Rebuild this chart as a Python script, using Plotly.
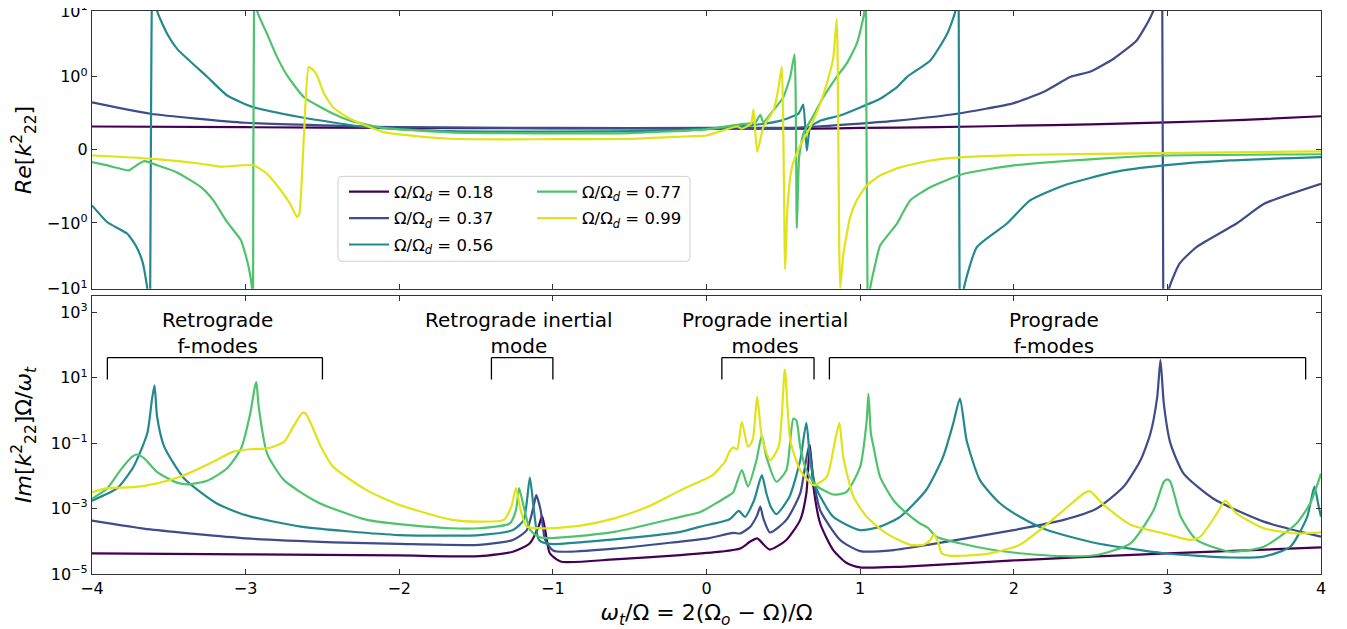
import numpy as np
import plotly.graph_objects as go

# ---------------- data ----------------
omega_ratio = [0.18, 0.37, 0.56, 0.77, 0.99]
line_colors = ["#440154", "#3e4c8a", "#23898e", "#4ec36b", "#dfe318"]

x_ticks = [-4, -3, -2, -1, 0, 1, 2, 3, 4]
re_tick_values = [-10, -1, 0, 1, 10]
re_tick_text = ["−10<sup>1</sup>", "−10<sup>0</sup>", "0", "10<sup>0</sup>", "10<sup>1</sup>"]
im_tick_values = [1e-5, 1e-3, 1e-1, 1e1, 1e3]
im_tick_text = ["10<sup>−5</sup>", "10<sup>−3</sup>", "10<sup>−1</sup>", "10<sup>1</sup>", "10<sup>3</sup>"]

# Re[k22] (top panel): (omega_t/Omega, value)
re_018 = [(-4, 0.32), (-3, 0.31), (-2, 0.30), (-1, 0.295), (0, 0.29), (0.7, 0.29), (1, 0.30),
          (1.5, 0.31), (2, 0.33), (2.5, 0.35), (3, 0.375), (3.5, 0.41), (4, 0.46)]
re_037 = [(-4, 0.65), (-3.62, 0.494), (-3, 0.371), (-2, 0.31), (-1, 0.30), (0, 0.30), (0.6, 0.305),
          (1.0, 0.36), (1.24, 0.40), (1.63, 0.494), (2.0, 0.64), (2.2, 0.8), (2.37, 1.0), (2.5, 1.2),
          (2.65, 1.88), (2.80, 3.56), (2.89, 8.05), (2.93, 14), (2.95, 30), (2.965, 200),
          (2.975, -200), (2.99, -30), (3.01, -10), (3.08, -4.12), (3.19, -2.32), (3.45, -1.02),
          (3.63, -0.737), (4.0, -0.464)]
re_056 = [(-4, -0.76), (-3.9, -0.99), (-3.77, -1.46), (-3.71, -2.32), (-3.67, -4.0), (-3.64, -10),
          (-3.625, -60), (-3.605, 60), (-3.576, 10), (-3.51, 4.47), (-3.446, 2.66), (-3.25, 1.0),
          (-3.12, 0.744), (-2.95, 0.584), (-2.64, 0.447), (-2.21, 0.31), (-1.67, 0.256), (-1.0, 0.25),
          (-0.3, 0.26), (0.0, 0.29), (0.29, 0.335), (0.485, 0.40), (0.60, 0.50), (0.63, 0.62),
          (0.653, -0.01), (0.675, 0.31), (0.74, 0.40), (0.87, 0.47), (1.0, 0.58), (1.13, 0.70),
          (1.24, 0.858), (1.306, 1.0), (1.457, 1.77), (1.566, 4.47), (1.62, 10), (1.638, 60),
          (1.652, -60), (1.675, -10), (1.76, -2.32), (1.956, -1.02), (2.106, -0.692),
          (2.325, -0.487), (2.65, -0.305), (2.976, -0.213), (3.41, -0.145), (4.0, -0.10)]
re_077 = [(-4, -0.168), (-3.9, -0.213), (-3.76, -0.28), (-3.73, -0.24), (-3.66, -0.155),
          (-3.576, -0.21), (-3.45, -0.305), (-3.29, -0.51), (-3.21, -0.692), (-3.12, -0.99),
          (-3.03, -1.84), (-2.98, -4.7), (-2.958, -10), (-2.952, -60), (-2.944, 60), (-2.925, 10),
          (-2.86, 4.47), (-2.795, 1.99), (-2.73, 1.05), (-2.62, 0.72), (-2.43, 0.494), (-2.32, 0.40),
          (-2.10, 0.30), (-1.67, 0.24), (-1.0, 0.225), (-0.5, 0.23), (0.0, 0.28), (0.22, 0.35),
          (0.32, 0.38), (0.35, 0.48), (0.37, 0.38), (0.435, 0.54), (0.5, 0.72), (0.545, 1.0),
          (0.573, 2.2), (0.588, -1.2), (0.603, -0.1), (0.63, 0.22), (0.696, 0.47), (0.76, 0.72),
          (0.848, 1.0), (0.913, 1.6), (0.978, 3.2), (1.017, 7.2), (1.028, 10), (1.036, 60),
          (1.05, -60), (1.065, -10), (1.10, -4.1), (1.13, -2.2), (1.217, -1.2), (1.24, -1.02),
          (1.327, -0.69), (1.457, -0.51), (1.675, -0.327), (2.0, -0.213), (2.54, -0.122),
          (2.976, -0.077), (4.0, -0.06)]
re_099 = [(-4, -0.077), (-3.62, -0.12), (-3.29, -0.19), (-3.16, -0.23), (-2.95, -0.21),
          (-2.86, -0.33), (-2.77, -0.556), (-2.71, -0.74), (-2.665, -0.92), (-2.65, -0.87),
          (-2.62, 0.22), (-2.59, 1.4), (-2.57, 1.33), (-2.535, 1.05), (-2.49, 0.77), (-2.43, 0.58),
          (-2.32, 0.425), (-2.10, 0.243), (-1.67, 0.152), (-1.0, 0.146), (-0.5, 0.15),
          (-0.15, 0.183), (0.0, 0.197), (0.07, 0.24), (0.2, 0.32), (0.23, 0.29), (0.29, 0.36),
          (0.306, 0.55), (0.33, -0.03), (0.37, 0.31), (0.436, 0.54), (0.47, 0.86), (0.49, 1.43),
          (0.512, -5.1), (0.527, -0.78), (0.556, -0.24), (0.61, 0.06), (0.675, 0.31), (0.74, 0.63),
          (0.805, 1.2), (0.826, 2.0), (0.848, 7.6), (0.87, -9.7), (0.89, -3.1), (0.935, -0.92),
          (0.978, -0.69), (1.043, -0.487), (1.13, -0.35), (1.26, -0.24), (1.457, -0.145),
          (1.675, -0.10), (2.1, -0.067), (2.976, -0.045), (4.0, -0.02)]

# Im[k22] Omega/omega_t (bottom panel): (omega_t/Omega, value)
im_018 = [(-4.0, 4.3e-5), (-3.0, 4.0e-5), (-2.0, 3.7e-5), (-1.48, 3.5e-5), (-1.26, 4.8e-5),
          (-1.15, 8.7e-5), (-1.093, 2.8e-4), (-1.07, 5.9e-4), (-1.05, 2.2e-4), (-1.02, 4.3e-5),
          (-0.95, 2.4e-5), (-0.6, 2.8e-5), (-0.17, 3.8e-5), (0.09, 4.8e-5), (0.22, 6.0e-5),
          (0.285, 9.8e-5), (0.33, 1.23e-4), (0.41, 5.6e-5), (0.52, 1.1e-4), (0.61, 4.5e-4),
          (0.65, 2.9e-3), (0.673, 8.7e-2), (0.696, 4.7e-3), (0.74, 3.5e-4), (0.825, 5.4e-5),
          (0.91, 2.2e-5), (1.0, 1.6e-5), (1.26, 1.66e-5), (2.0, 2.6e-5), (3.0, 4.3e-5), (4.0, 6.5e-5)]
im_037 = [(-4.0, 4.3e-4), (-3.62, 2.3e-4), (-3.0, 1.23e-4), (-2.43, 9.3e-5), (-2.0, 8.3e-5),
          (-1.48, 7.8e-5), (-1.26, 1.1e-4), (-1.17, 2.2e-4), (-1.126, 1.15e-3), (-1.108, 2.6e-3),
          (-1.08, 9.1e-4), (-1.05, 1.1e-4), (-0.996, 5.1e-5), (-0.6, 6.0e-5), (-0.17, 9.8e-5),
          (0.0, 1.2e-4), (0.175, 1.8e-4), (0.22, 1.74e-4), (0.285, 2.8e-4), (0.33, 6.3e-4),
          (0.35, 1.15e-3), (0.37, 5.0e-4), (0.414, 1.86e-4), (0.52, 4.5e-4), (0.61, 2.9e-3),
          (0.666, 7.9e-2), (0.70, 6.3e-3), (0.74, 8.9e-4), (0.87, 1.1e-4), (1.0, 5.0e-5),
          (1.22, 5.4e-5), (1.45, 7.9e-5), (2.0, 2.2e-4), (2.325, 4.5e-4), (2.54, 1.0e-3),
          (2.716, 4.7e-3), (2.825, 3.0e-2), (2.89, 0.2), (2.934, 2.6), (2.955, 35), (2.977, 1.6),
          (3.02, 9.8e-2), (3.106, 1.17e-2), (3.30, 2.0e-3), (3.627, 4.0e-4), (4.0, 1.38e-4)]
im_056 = [(-4.0, 1.74e-3), (-3.836, 4.2e-3), (-3.73, 1.9e-2), (-3.64, 0.2), (-3.61, 2.1),
          (-3.593, 5.9), (-3.576, 0.63), (-3.53, 7.8e-2), (-3.40, 8.3e-3), (-3.19, 1.45e-3),
          (-3.0, 6.3e-4), (-2.64, 2.8e-4), (-2.0, 1.55e-4), (-1.48, 1.55e-4), (-1.26, 2.2e-4),
          (-1.19, 4.5e-4), (-1.15, 8.9e-3), (-1.126, 1.15e-3), (-1.09, 1.1e-4), (-1.017, 8.3e-5),
          (-0.6, 1.15e-4), (-0.17, 1.95e-4), (-0.04, 2.8e-4), (0.15, 4.7e-4), (0.21, 8.5e-4),
          (0.25, 5.6e-4), (0.31, 1.8e-3), (0.36, 1.05e-2), (0.39, 2.9e-3), (0.42, 1.1e-3),
          (0.455, 6.8e-4), (0.54, 2.3e-3), (0.61, 3.0e-2), (0.65, 0.42), (0.675, 3.0e-2),
          (0.71, 4.7e-3), (0.825, 5.6e-4), (1.0, 2.2e-4), (1.13, 2.8e-4), (1.26, 5.6e-4),
          (1.43, 3.7e-3), (1.54, 3.8e-2), (1.606, 0.4), (1.65, 2.3), (1.693, 0.123), (1.78, 7.4e-3),
          (1.91, 1.45e-3), (2.04, 5.6e-4), (2.217, 2.2e-4), (2.54, 8.7e-5), (2.977, 4.3e-5),
          (3.41, 3.2e-5), (3.627, 3.4e-5), (3.80, 6.8e-5), (3.91, 5.6e-4), (3.957, 4.7e-3),
          (3.985, 1.15e-3), (4.0, 5.6e-4)]
im_077 = [(-4.0, 2.0e-3), (-3.9, 4.2e-3), (-3.815, 1.5e-2), (-3.74, 3.8e-2), (-3.71, 4.5e-2),
          (-3.66, 3.4e-2), (-3.576, 1.3e-2), (-3.446, 6.2e-3), (-3.38, 5.5e-3), (-3.25, 7.1e-3),
          (-3.12, 1.7e-2), (-3.03, 6.9e-2), (-2.97, 0.81), (-2.94, 5.2), (-2.93, 7.4), (-2.915, 1.3),
          (-2.86, 4.8e-2), (-2.75, 7.4e-3), (-2.535, 1.6e-3), (-2.21, 4.5e-4), (-1.667, 2.5e-4),
          (-1.48, 2.5e-4), (-1.28, 3.5e-4), (-1.24, 9.1e-4), (-1.22, 4.2e-3), (-1.19, 1.15e-3),
          (-1.147, 2.2e-4), (-1.08, 1.3e-4), (-0.6, 1.95e-4), (-0.17, 5.6e-4), (-0.04, 7.9e-4),
          (0.15, 2.6e-3), (0.175, 3.2e-3), (0.23, 1.5e-2), (0.27, 4.7e-3), (0.325, 3.0e-2),
          (0.36, 0.17), (0.39, 3.8e-2), (0.455, 6.6e-3), (0.52, 1.5e-2), (0.565, 0.56), (0.585, 0.5),
          (0.61, 7.8e-2), (0.65, 1.5e-2), (0.71, 5.2e-3), (0.825, 2.7e-3), (0.91, 3.2e-3),
          (1.0, 1.9e-2), (1.043, 0.5), (1.054, 3.2), (1.07, 0.2), (1.087, 7.8e-2), (1.13, 9.3e-3),
          (1.217, 1.8e-3), (1.304, 7.1e-4), (1.39, 3.5e-4), (1.44, 2.6e-4), (1.496, 1.38e-4),
          (1.65, 8.7e-5), (1.867, 5.4e-5), (2.04, 4.3e-5), (2.325, 3.5e-5), (2.54, 3.8e-5),
          (2.76, 8.7e-5), (2.91, 8.9e-4), (2.977, 6.6e-3), (3.0, 7.8e-3), (3.02, 6.6e-3),
          (3.087, 5.6e-4), (3.19, 1.1e-4), (3.41, 4.8e-5), (3.627, 6.8e-5), (3.84, 3.5e-4),
          (3.93, 1.45e-3), (4.0, 1.17e-2)]
im_099 = [(-4.0, 3.1e-3), (-3.9, 4.2e-3), (-3.73, 4.5e-3), (-3.576, 5.9e-3), (-3.40, 1.05e-2),
          (-3.21, 2.7e-2), (-3.08, 5.5e-2), (-2.97, 6.5e-2), (-2.86, 6.9e-2), (-2.75, 0.11),
          (-2.69, 0.32), (-2.63, 0.85), (-2.61, 0.81), (-2.58, 0.45), (-2.51, 7.8e-2), (-2.43, 1.9e-2),
          (-2.21, 3.6e-3), (-2.0, 1.3e-3), (-1.67, 4.7e-4), (-1.48, 4.0e-4), (-1.32, 4.5e-4),
          (-1.27, 1.15e-3), (-1.24, 4.2e-3), (-1.21, 9.1e-4), (-1.17, 2.8e-4), (-1.04, 2.5e-4),
          (-0.82, 3.0e-4), (-0.6, 5.0e-4), (-0.38, 1.15e-3), (-0.17, 3.6e-3), (0.0, 8.3e-3),
          (0.04, 1.05e-2), (0.12, 2.7e-2), (0.15, 5.5e-2), (0.175, 7.4e-2), (0.20, 6.5e-2),
          (0.23, 0.45), (0.27, 7.8e-2), (0.30, 0.123), (0.33, 2.6), (0.36, 0.155), (0.414, 3.0e-2),
          (0.47, 7.8e-2), (0.51, 17.8), (0.545, 0.123), (0.61, 1.5e-2), (0.697, 5.2e-3),
          (0.783, 9.3e-3), (0.837, 0.123), (0.865, 0.42), (0.89, 3.8e-2), (0.957, 2.3e-3),
          (1.043, 5.6e-4), (1.17, 1.74e-4), (1.326, 7.8e-5), (1.413, 7.8e-5), (1.457, 1.1e-4),
          (1.48, 1.66e-4), (1.51, 8.7e-5), (1.53, 4.3e-5), (1.586, 3.6e-5), (1.825, 4.1e-5),
          (2.04, 7.8e-5), (2.17, 2.2e-4), (2.325, 8.9e-4), (2.455, 2.9e-3), (2.495, 3.4e-3),
          (2.585, 1.3e-3), (2.76, 3.2e-4), (2.977, 1.74e-4), (3.15, 1.1e-4), (3.214, 1.38e-4),
          (3.323, 7.1e-4), (3.377, 1.74e-3), (3.45, 7.1e-4), (3.627, 2.5e-4), (3.84, 1.74e-4),
          (4.0, 1.86e-4)]

re_series = [re_018, re_037, re_056, re_077, re_099]
im_series = [im_018, im_037, im_056, im_077, im_099]

# mode brackets: (label, x_start, x_end, label_x)
mode_labels = ["Retrograde<br>f-modes", "Retrograde inertial<br>mode",
               "Prograde inertial<br>modes", "Prograde<br>f-modes"]
bracket_start = [-3.9, -1.4, 0.1, 0.8]
bracket_end = [-2.5, -1.0, 0.7, 3.9]
label_x = [-3.18, -1.22, 0.38, 2.26]

# ---------------- helpers ----------------
LINSCALE = 1.0 / (1.0 - 0.1)  # matplotlib symlog (linthresh=1, linscale=1, base 10)


def symlog(v):
    v = np.asarray(v, dtype=float)
    a = np.abs(v)
    return np.where(a <= 1.0, v * LINSCALE,
                    np.sign(v) * (LINSCALE + np.log10(np.maximum(a, 1e-300))))


FONT = "DejaVu Sans"
AXCOL = "#333333"

# page offset of the browser (body margin 8px) is compensated in the figure size/margins
W, H = 1339, 621
ML, MR, MT, MB = 84, 26, 2.5, 55
PW, PH = W - ML - MR, H - MT - MB


def px_to_paper_x(px):
    return (px - 8 - ML) / PW


def px_to_paper_y(py):
    return (H - MB - (py - 8)) / PH


fig = go.Figure()
for i, (ratio, col) in enumerate(zip(omega_ratio, line_colors)):
    rx = [p[0] for p in re_series[i]]
    ry = [p[1] for p in re_series[i]]
    ix = [p[0] for p in im_series[i]]
    iy = [p[1] for p in im_series[i]]
    fig.add_trace(go.Scatter(
        x=rx, y=symlog(ry), xaxis="x", yaxis="y", mode="lines",
        line=dict(color=col, width=2.2, shape="spline", smoothing=0.5),
        name=f"Ω/Ω<sub><i>d</i></sub> = {ratio:.2f}",
        legend="legend" if i < 3 else "legend2",
        legendgroup=f"g{i}", hoverinfo="skip"))
    fig.add_trace(go.Scatter(
        x=ix, y=iy, xaxis="x2", yaxis="y2", mode="lines",
        line=dict(color=col, width=2.2, shape="spline", smoothing=0.6),
        showlegend=False, legendgroup=f"g{i}", hoverinfo="skip"))

common_axis = dict(showline=True, linecolor=AXCOL, linewidth=1.3, mirror="ticks",
                   ticks="inside", ticklen=5, tickwidth=1.2, tickcolor=AXCOL,
                   showgrid=False, zeroline=False, automargin=False,
                   ticklabeloverflow="allow",
                   tickfont=dict(family=FONT, size=16, color="black"))

gap_top = px_to_paper_y(288.5)
gap_bot = px_to_paper_y(295.7)
top_dom = [gap_top, 1.0]
bot_dom = [0.0, gap_bot]
lim = float(symlog([10.0])[0]) + 1e-4

legend_common = dict(xanchor="left", yanchor="top", bgcolor="rgba(0,0,0,0)", borderwidth=0,
                     itemwidth=40, tracegroupgap=2,
                     font=dict(family=FONT, size=16.5, color="black"))

fig.update_layout(
    width=W, height=H,
    margin=dict(l=ML, r=MR, t=MT, b=MB),
    paper_bgcolor="white", plot_bgcolor="white",
    font=dict(family=FONT, color="black"),
    xaxis=dict(domain=[0, 1], anchor="y", range=[-4, 4], tickvals=x_ticks,
               showticklabels=False, **common_axis),
    yaxis=dict(domain=top_dom, anchor="x", range=[-lim, lim],
               tickvals=list(symlog(re_tick_values)), ticktext=re_tick_text,
               title=dict(text="<i>Re</i>[<i>k</i><sup>2</sup><sub>22</sub>]",
                          font=dict(family=FONT, size=22)),
               **common_axis),
    xaxis2=dict(domain=[0, 1], anchor="y2", range=[-4, 4], tickvals=x_ticks,
                title=dict(text="<i>ω</i><sub><i>t</i></sub>/Ω = 2(Ω<sub><i>o</i></sub> − Ω)/Ω",
                           font=dict(family=FONT, size=22)),
                **common_axis),
    yaxis2=dict(domain=bot_dom, anchor="x2", type="log", range=[-5, 3.5],
                tickvals=im_tick_values, ticktext=im_tick_text,
                title=dict(text="<i>Im</i>[<i>k</i><sup>2</sup><sub>22</sub>]Ω/<i>ω</i><sub><i>t</i></sub>",
                           font=dict(family=FONT, size=22)),
                **common_axis),
    legend=dict(x=px_to_paper_x(344), y=px_to_paper_y(174), **legend_common),
    legend2=dict(x=px_to_paper_x(532), y=px_to_paper_y(174), **legend_common),
    showlegend=True,
)

# legend frame (one rounded box around both legend columns)
x0, x1 = px_to_paper_x(338), px_to_paper_x(690)
y0, y1 = px_to_paper_y(261), px_to_paper_y(176)
rx, ry = 4 / PW, 4 / PH
frame_path = (f"M{x0 + rx},{y0} L{x1 - rx},{y0} Q{x1},{y0} {x1},{y0 + ry} "
              f"L{x1},{y1 - ry} Q{x1},{y1} {x1 - rx},{y1} L{x0 + rx},{y1} "
              f"Q{x0},{y1} {x0},{y1 - ry} L{x0},{y0 + ry} Q{x0},{y0} {x0 + rx},{y0} Z")
fig.add_shape(type="path", xref="paper", yref="paper", path=frame_path,
              line=dict(color="#d0d0d0", width=1), fillcolor="rgba(255,255,255,0.8)",
              layer="above")

# brackets and labels in the bottom panel
br_top, br_bottom = 41.4, 8.8
for lab, xs, xe, lx in zip(mode_labels, bracket_start, bracket_end, label_x):
    for (a0, b0, a1, b1) in [(xs, br_bottom, xs, br_top), (xs, br_top, xe, br_top),
                             (xe, br_top, xe, br_bottom)]:
        fig.add_shape(type="line", xref="x2", yref="y2", x0=a0, y0=b0, x1=a1, y1=b1,
                      line=dict(color="black", width=1.3))
    fig.add_annotation(x=lx, y=np.log10(br_top), xref="x2", yref="y2", text=lab,
                       showarrow=False, yanchor="bottom", yshift=-2,
                       font=dict(family=FONT, size=20, color="black"))

fig.write_html("out.html")
